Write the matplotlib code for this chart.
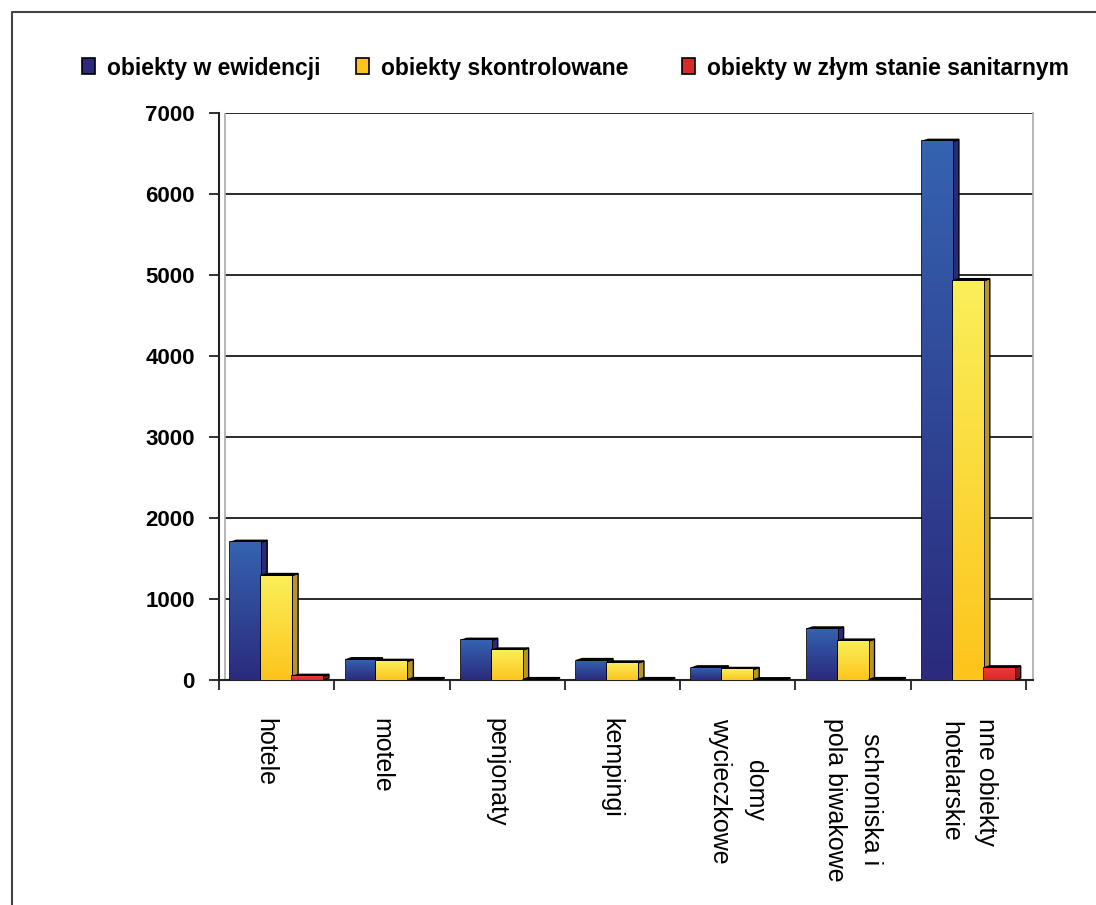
import numpy as np
import matplotlib.pyplot as plt
from matplotlib.patches import Polygon, Patch
from matplotlib.colors import LinearSegmentedColormap
from matplotlib.lines import Line2D

plt.rcParams['font.family'] = ['Liberation Sans', 'DejaVu Sans']

# data
categories = ['hotele', 'motele', 'penjonaty', 'kempingi',
              'domy\nwycieczkowe', 'schroniska i\npola biwakowe',
              'nne obiekty\nhotelarskie']
w_ewidencji = [1700, 250, 490, 240, 150, 630, 6650]
skontrolowane = [1290, 230, 370, 210, 130, 480, 4930]
zly_stan = [45, 5, 5, 5, 3, 5, 150]
series_names = ['obiekty w ewidencji', 'obiekty skontrolowane',
                'obiekty w złym stanie sanitarnym']
y_ticks = [0, 1000, 2000, 3000, 4000, 5000, 6000, 7000]

# colours: (top of gradient, bottom of gradient, side face)
styles = [('#3563B0', '#2B2A7C', '#2A2A78'),
          ('#FAEF5A', '#FDC41C', '#B8952C'),
          ('#EE3B36', '#D8292A', '#8A1A1A')]

W, H = 1096, 905
fig = plt.figure(figsize=(W / 100, H / 100), dpi=100)

# outer frame (left and top edges only visible)
fig.add_artist(Line2D([12 / W, 12 / W, 1.0], [0.0, 1 - 12 / H, 1 - 12 / H],
                      transform=fig.transFigure, color='#444444', lw=1.5))

ax_l, ax_r, ax_t, ax_b = 219, 1033, 113, 680
ax = fig.add_axes([ax_l / W, 1 - ax_b / H, (ax_r - ax_l) / W, (ax_b - ax_t) / H])
px_per_unit = (1026 - 219) / 7.0
xmin, xmax = -0.5, 6.5 + (ax_r - 1026) / px_per_unit

# pixel -> data size of the 3D depth
dx = 6 / px_per_unit
dy = 2 / (ax_b - ax_t) * 7000

# grid lines on the back wall
wall_x = -0.5 + 6 / px_per_unit
ax.hlines(y_ticks[1:], wall_x, xmax, color='#2a2a2a', lw=1.4, zorder=1)
ax.axvline(wall_x, color='#aaaaaa', lw=1.2, zorder=1)

x = np.arange(len(categories))
bw = 0.268
offsets = [-bw, 0.0, bw]
all_series = [w_ewidencji, skontrolowane, zly_stan]

grad = np.linspace(0, 1, 256).reshape(-1, 1)
for k, (vals, off, (ctop, cbot, cside)) in enumerate(zip(all_series, offsets, styles)):
    cmap = LinearSegmentedColormap.from_list('g%d' % k, [cbot, ctop])
    bars = ax.bar(x + off, vals, bw, color=ctop, edgecolor='black',
                  linewidth=1.2, zorder=3 + k)
    for b in bars:
        x0 = b.get_x()
        x1, h = x0 + b.get_width(), b.get_height()
        # side face and top face for the 3D look
        side = Polygon([(x1, 0), (x1 + dx, dy), (x1 + dx, h + dy), (x1, h)],
                       closed=True, facecolor=cside, edgecolor='black',
                       lw=1.0, zorder=2.5 + k)
        top = Polygon([(x0, h), (x0 + dx, h + dy), (x1 + dx, h + dy), (x1, h)],
                      closed=True, facecolor='black', edgecolor='black',
                      lw=1.0, zorder=2.5 + k)
        ax.add_patch(side)
        ax.add_patch(top)
        im = ax.imshow(grad, extent=[x0, x1, 0, h], origin='lower',
                       cmap=cmap, aspect='auto', zorder=3.1 + k)
        im.set_clip_path(b)

ax.set_xlim(xmin, xmax)
ax.set_ylim(0, 7000)

# spines
ax.spines['top'].set_visible(False)
ax.spines['right'].set_color('#aaaaaa')
ax.spines['right'].set_linewidth(1.2)
ax.spines['left'].set_color('#222222')
ax.spines['left'].set_linewidth(1.5)
ax.spines['bottom'].set_color('#222222')
ax.spines['bottom'].set_linewidth(1.5)

# y axis
ax.set_yticks(y_ticks)
ax.set_yticklabels([str(v) for v in y_ticks], fontsize=16, fontweight='bold')
ax.tick_params(axis='y', length=7, width=1.3, pad=10.5, color='#222222')

# x axis: tick marks on the category borders, labels written below
ax.set_xticks(np.arange(-0.5, 7.0, 1.0))
ax.set_xticklabels([])
ax.tick_params(axis='x', length=7, width=1.3, color='#222222')
for xi, name in zip(x, categories):
    shift = 0 if '\n' in name else -11
    ax.annotate(name, xy=(xi, 0), xycoords=('data', 'axes fraction'),
                xytext=(shift * 0.72, -27), textcoords='offset points',
                rotation=270, fontsize=18, ha='center', va='top',
                multialignment='center', linespacing=1.6,
                annotation_clip=False)

# legend, one entry per box so each can sit at its own place
legend_x = [82, 356, 682]
for xl, name, s in zip(legend_x, series_names, styles):
    h = Patch(facecolor=s[1], edgecolor='black', linewidth=1.2)
    leg = fig.legend([h], [name], loc='center left',
                     bbox_to_anchor=(xl / W, 1 - 68 / H), frameon=False,
                     prop={'weight': 'bold', 'size': 16.5}, handlelength=0.55,
                     handleheight=0.7, handletextpad=0.55, borderpad=0,
                     borderaxespad=0)

fig.savefig('out.png', dpi=100)
